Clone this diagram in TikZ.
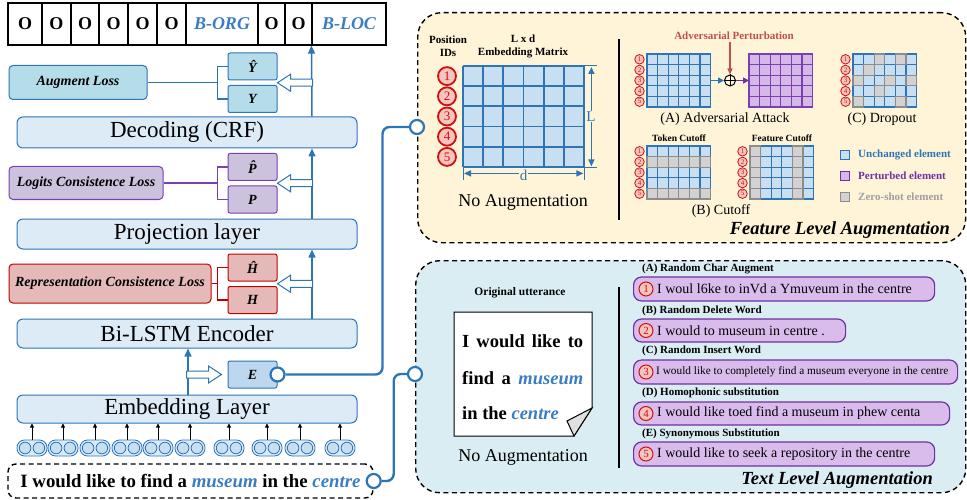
\documentclass[tikz,border=0pt]{standalone}
\usepackage{fontspec}
\setmainfont{Liberation Serif}
\usetikzlibrary{arrows.meta,calc}
\definecolor{lblue}{HTML}{DDEBF7}
\definecolor{mblue}{HTML}{2E75B6}
\definecolor{tblue}{HTML}{3A7DC4}
\definecolor{augfill}{HTML}{B4DDE9}
\definecolor{efill}{HTML}{BDD7EE}
\definecolor{purfill}{HTML}{CDC2DE}
\definecolor{purline}{HTML}{7A3FB0}
\definecolor{redfill}{HTML}{E5B9B7}
\definecolor{redline}{HTML}{C00000}
\definecolor{yellowbg}{HTML}{FFF3D8}
\definecolor{bluebg}{HTML}{DAEDF3}
\definecolor{cellblue}{HTML}{C8DEF1}
\definecolor{cellpur}{HTML}{D5B8E8}
\definecolor{cellgray}{HTML}{D2D2D2}
\definecolor{graystroke}{HTML}{8C8C8C}
\definecolor{boxpur}{HTML}{D9BCEB}
\definecolor{numred}{HTML}{D01010}
\definecolor{numfill}{HTML}{F6C6BE}
\definecolor{advred}{HTML}{C0504D}
\definecolor{legpur}{HTML}{7030A0}
\definecolor{leggray}{HTML}{A0A0A0}
\definecolor{foldgray}{HTML}{E0E0E0}
\newcommand\fsz[1]{\fontsize{#1}{#1}\selectfont}
\newcommand\smatrix[4]{%
  \node[inner sep=0pt, minimum width=63.6pt, minimum height=53pt, anchor=north west] (#1) at (#2,#3) {};
  \foreach \ci in {0,...,5}{\foreach \cj in {0,...,4}{\draw[#4] ({#2+\ci*10.6},{#3+\cj*10.6}) rectangle ++(10.6,10.6);}}}
\newcommand\gcells[3]{\foreach \ci/\cj in {#3}{\draw[gcell] ({#1+\ci*10.6},{#2+\cj*10.6}) rectangle ++(10.6,10.6);}}
\newcommand\snums[3]{\foreach \cj in {1,...,5}{\node[snum] (#1n\cj) at ({#2-7.5},{#3+(\cj-0.5)*10.6}) {\cj};}}
\begin{document}
\begin{tikzpicture}[x=1pt,y=-1pt,
  layerbox/.style={draw=mblue, fill=lblue, line width=1pt, rounded corners=6pt, minimum width=340pt, inner sep=0pt, font=\fsz{23}},
  tagcell/.style={draw=black, line width=1.1pt, minimum height=42pt, inner sep=0pt, font=\fsz{18}\bfseries},
  lossbox/.style={line width=1pt, rounded corners=4pt, inner sep=0pt, font=\fsz{14}\bfseries\itshape},
  smallbox/.style={line width=1pt, rounded corners=2pt, minimum width=49pt, minimum height=27pt, inner sep=0pt, font=\fsz{14}\bfseries\itshape},
  brk/.style={line width=1.5pt},
  bluearr/.style={draw=mblue, line width=1.5pt, -{Triangle[length=8pt,width=7pt]}},
  tokarr/.style={draw=black, line width=0.8pt, -{Triangle[length=4pt,width=4pt]}},
  tokpair/.style={draw=mblue, fill=lblue, line width=0.8pt, rounded corners=7.5pt, minimum width=30pt, minimum height=16pt, inner sep=0pt},
  tokcirc/.style={draw=mblue, fill=cellblue, line width=0.8pt},
  portc/.style={circle, draw=mblue, fill=white, line width=2.2pt, minimum size=14pt, inner sep=0pt},
  conn/.style={draw=mblue, line width=2.4pt, rounded corners=7pt},
  panelbox/.style={draw=black, line width=1.4pt, dash pattern=on 5pt off 3.5pt, rounded corners=24pt, inner sep=0pt},
  bcell/.style={draw=mblue, fill=cellblue, line width=1.3pt},
  pcell/.style={draw=purline, fill=cellpur, line width=1.3pt},
  gcell/.style={draw=graystroke, fill=cellgray, line width=1.3pt},
  snum/.style={circle, draw=numred, fill=numfill, line width=0.8pt, inner sep=0pt, minimum size=9.5pt, text=numred, font=\fsz{7}},
  bnum/.style={circle, draw=numred, fill=numfill, line width=1.8pt, inner sep=0pt, minimum size=18pt, text=numred, font=\fsz{13}},
  tnum/.style={circle, draw=numred, fill=numfill, line width=1pt, inner sep=0pt, minimum size=14pt, text=numred, font=\fsz{11}},
  tbox/.style={draw=legpur, fill=boxpur, line width=1.2pt, rounded corners=8pt, anchor=west, inner sep=0pt},
  lbl/.style={anchor=west, inner sep=0pt, font=\fsz{11}\bfseries},
  lgsq/.style={minimum size=9pt, inner sep=0pt, line width=1.3pt},
  divline/.style={draw=black, line width=1.2pt}
]
\useasboundingbox (0,0) rectangle (967,500);
% ---------- panels ----------
\node[panelbox, fill=yellowbg, minimum width=548pt, minimum height=230pt, anchor=north west] (fpan) at (417,12) {};
\node[panelbox, fill=bluebg, minimum width=550pt, minimum height=232pt, anchor=north west] (tpan) at (415,260) {};
% ---------- tag row ----------
\node[tagcell, minimum width=34pt] (t1) at (25,24) {O};
\node[tagcell, minimum width=29pt] (t2) at (56.5,24) {O};
\node[tagcell, minimum width=28pt] (t3) at (85,24) {O};
\node[tagcell, minimum width=29pt] (t4) at (113.5,24) {O};
\node[tagcell, minimum width=29pt] (t5) at (142.5,24) {O};
\node[tagcell, minimum width=29pt] (t6) at (171.5,24) {O};
\node[tagcell, minimum width=72pt, text=tblue, font=\fsz{18}\bfseries\itshape] (t7) at (222,24) {B-ORG};
\node[tagcell, minimum width=27pt] (t8) at (271.5,24) {O};
\node[tagcell, minimum width=27pt] (t9) at (298.5,24) {O};
\node[tagcell, minimum width=74pt, text=tblue, font=\fsz{18}\bfseries\itshape] (t10) at (349,24) {B-LOC};
% ---------- layers ----------
\node[layerbox, minimum height=31pt] (dec) at (187,132.5) {Decoding (CRF)};
\node[layerbox, minimum height=30pt] (proj) at (187,234) {Projection layer};
\node[layerbox, minimum height=29pt] (lstm) at (187,333.5) {Bi-LSTM Encoder};
\node[layerbox, minimum height=28pt] (emb) at (187,409) {Embedding Layer};
\coordinate (ax) at (312,0);
\coordinate (bx) at (188,0);
\draw[bluearr] (dec.north -| ax) -- (t10.south west);
\draw[bluearr] (proj.north -| ax) -- (dec.south -| ax);
\draw[bluearr] (lstm.north -| ax) -- (proj.south -| ax);
\draw[bluearr] (emb.north -| bx) -- (lstm.south -| bx);
% ---------- small boxes ----------
\node[smallbox, draw=mblue, fill=augfill] (yhat) at (252.5,66.5) {\^{Y}};
\node[smallbox, draw=mblue, fill=augfill] (yy) at (252.5,99) {Y};
\node[smallbox, draw=purline, fill=purfill] (phat) at (252.5,167) {\^{P}};
\node[smallbox, draw=purline, fill=purfill] (pp) at (252.5,199.5) {P};
\node[smallbox, draw=redline, fill=redfill] (hhat) at (252.5,267.5) {\^{H}};
\node[smallbox, draw=redline, fill=redfill] (hh) at (252.5,300) {H};
\node[smallbox, draw=mblue, fill=efill] (ee) at (252.5,374.5) {E};
% ---------- loss boxes ----------
\node[lossbox, draw=mblue, fill=augfill, minimum width=138pt, minimum height=34pt] (aug) at (78,82.5) {Augment Loss};
\node[lossbox, draw=purline, fill=purfill, minimum width=154pt, minimum height=33pt] (logit) at (86,183) {Logits Consistence Loss};
\node[lossbox, draw=redline, fill=redfill, minimum width=202pt, minimum height=39pt] (repr) at (110,283.5) {Representation Consistence Loss};
% brackets
\draw[brk, mblue] (yhat.west) -- ++(-10,0) coordinate (bk1) |- (yy.west);
\draw[brk, mblue] (aug.east) -- (aug.east -| bk1);
\draw[brk, purline] (phat.west) -- ++(-10,0) coordinate (bk2) |- (pp.west);
\draw[brk, purline] (logit.east) -- (logit.east -| bk2);
\draw[brk, redline] (hhat.west) -- ++(-10,0) coordinate (bk3) |- (hh.west);
\draw[brk, redline] (repr.east) -- (repr.east -| bk3);
% hollow arrows
\tikzset{hollowL/.pic={\draw[mblue, fill=white, line width=1pt] (0,0) -- (13,-8.5) -- (13,-3.5) -- (35,-3.5) -- (35,3.5) -- (13,3.5) -- (13,8.5) -- cycle;}}
\pic at ($(yhat.south east)!0.5!(yy.north east)$) {hollowL};
\pic at ($(phat.south east)!0.5!(pp.north east)$) {hollowL};
\pic at ($(hhat.south east)!0.5!(hh.north east)$) {hollowL};
\pic[xscale=-1] at ($(ee.west)+(-6,0)$) {hollowL};
% ---------- tokens ----------
\foreach \i/\xx in {1/32,2/63,3/95,4/127,5/158,6/190,7/229,8/267,9/300,10/340}{
  \node[tokpair] (tok\i) at (\xx,448) {};
  \draw[tokcirc] ($(tok\i.center)+(-6.9,0)$) circle (5.8pt);
  \draw[tokcirc] ($(tok\i.center)+(6.9,0)$) circle (5.8pt);
  \draw[tokarr] (tok\i.north) -- (tok\i.north |- emb.south);
}
\node[draw=black, line width=1.4pt, dash pattern=on 5pt off 3.5pt, rounded corners=8pt, minimum width=365pt, minimum height=34pt, inner sep=0pt, font=\fsz{18.8}\bfseries] (sent) at (190.5,481)
  {I would like to find a \textcolor{tblue}{\textit{museum}} in the \textcolor{tblue}{\textit{centre}}};
% ---------- connectors ----------
\coordinate (fport) at (417,127);
\coordinate (tport) at (415,374);
\node[portc] (eport) at (ee.east) {};
\node[portc] (sport) at (sent.east) {};
\node[portc] (fportc) at (fport) {};
\node[portc] (tportc) at (tport) {};
\draw[conn] (eport) -- ($(eport)+(105,0)$) |- (fportc);
\draw[conn] (sport) -- ($(sport)+(20,0)$) |- (tportc);
% ---------- feature panel ----------
\node[font=\fsz{11}\bfseries, align=center, inner sep=0pt] (posid) at (448,46) {Position\\[2pt]IDs};
\node[font=\fsz{11}\bfseries, align=center, inner sep=0pt] (lxd) at (523,46) {L x d\\[2pt]Embedding Matrix};
\node[inner sep=0pt, minimum width=121pt, minimum height=101pt, anchor=north west, fill=cellblue] (bigm) at (463,66) {};
\foreach \k in {0,...,6}{\draw[mblue, line width=1.8pt] ({463+\k*20.1667},66) -- ++(0,101);}
\foreach \k in {0,...,5}{\draw[mblue, line width=1.8pt] (463,{66+\k*20.2}) -- ++(121,0);}
\foreach \j in {1,...,5}{\node[bnum] (bn\j) at (447,{66+(\j-0.5)*20.2}) {\j};}
\draw[mblue, line width=1pt] (bigm.north east) -- ++(13,0);
\draw[mblue, line width=1pt] (bigm.south east) -- ++(13,0);
\draw[mblue, line width=1pt] (bigm.south west) -- ++(0,13);
\draw[mblue, line width=1pt] (bigm.south east) -- ++(0,13);
\draw[mblue, line width=1.5pt, {Triangle[length=7pt,width=6pt]}-{Triangle[length=7pt,width=6pt]}] ($(bigm.north east)+(7,1)$) -- ($(bigm.south east)+(7,-1)$);
\draw[mblue, line width=1.5pt, {Triangle[length=7pt,width=6pt]}-{Triangle[length=7pt,width=6pt]}] ($(bigm.south west)+(1,6)$) -- ($(bigm.south east)+(-1,6)$);
\node[fill=yellowbg, text=mblue, font=\fsz{15}, inner sep=1pt] (Llab) at (591,116.5) {L};
\node[fill=yellowbg, text=mblue, font=\fsz{15}, inner sep=1pt] (dlab) at (523.5,175) {d};
\node[font=\fsz{18}] (noaug1) at (523,202) {No Augmentation};
\draw[divline] (619,39) -- (619,220);
% adversarial
\smatrix{advm}{647}{54}{bcell}
\snums{adv}{647}{54}
\smatrix{purm}{749}{54}{pcell}
\node[circle, draw=black, line width=1pt, minimum size=11pt, inner sep=0pt] (op) at (730,80.5) {};
\draw[line width=1pt] (op.north) -- (op.south) (op.west) -- (op.east);
\draw[draw=mblue, line width=1.5pt, -{Triangle[length=6pt,width=6pt]}] (advm.east |- op) -- (op.west);
\draw[draw=legpur, line width=1.5pt, -{Triangle[length=6pt,width=6pt]}] (op.east) -- (purm.west |- op);
\node[font=\fsz{11}\bfseries, text=advred, inner sep=0pt] (advt) at (734,36) {Adversarial Perturbation};
\draw[draw=advred, line width=1.2pt, -{Triangle[length=6pt,width=5pt]}] ($(advt.south -| op)+(0,2)$) -- (op.north);
\node[font=\fsz{14}] (capA) at (725,119) {(A) Adversarial Attack};
% dropout
\smatrix{dropm}{853}{54}{bcell}
\gcells{853}{54}{2/0,4/0,1/1,0/2,3/2,5/2,2/3,0/4,4/4}
\snums{drp}{853}{54}
\node[font=\fsz{14}] (capC) at (882,119) {(C) Dropout};
% cutoff
\node[font=\fsz{9.5}\bfseries, inner sep=0pt] (tokt) at (679,138) {Token Cutoff};
\smatrix{tokm}{647}{146}{bcell}
\gcells{647}{146}{0/1,1/1,2/1,3/1,4/1,5/1,0/4,1/4,2/4,3/4,4/4,5/4}
\snums{tkc}{647}{146}
\node[font=\fsz{9.5}\bfseries, inner sep=0pt] (feat) at (782,138) {Feature Cutoff};
\smatrix{featm}{750}{146}{bcell}
\gcells{750}{146}{0/0,0/1,0/2,0/3,0/4,4/0,4/1,4/2,4/3,4/4}
\snums{ftc}{750}{146}
\node[font=\fsz{14}] (capB) at (721,211) {(B) Cutoff};
% legend
\node[lgsq, fill=cellblue, draw=mblue] (lg1) at (845,155) {};
\node[lgsq, fill=cellpur, draw=legpur] (lg2) at (845,176) {};
\node[lgsq, fill=cellgray, draw=graystroke] (lg3) at (845,197) {};
\node[lbl, text=mblue] (lt1) at (858,155) {Unchanged element};
\node[lbl, text=legpur] (lt2) at (858,176) {Perturbed element};
\node[lbl, text=leggray] (lt3) at (858,197) {Zero-shot element};
\node[anchor=east, font=\fsz{18.5}\bfseries\itshape, inner sep=0pt] (ftitle) at (950,230) {Feature Level Augmentation};
% ---------- text panel ----------
\node[font=\fsz{11.5}\bfseries, inner sep=0pt] (orig) at (520,293) {Original utterance};
\draw[fill=white, line width=1pt] (454,312) -- (592,312) -- (592,408) -- (574,436) -- (454,436) -- cycle;
\draw[fill=foldgray, line width=1pt] (592,408) -- (567,421) -- (574,436) -- cycle;
\node[anchor=west, font=\fsz{18.5}\bfseries, inner sep=0pt] (n1) at (462,341) {\makebox[121pt][s]{I would like to}};
\node[anchor=west, font=\fsz{18.5}\bfseries, inner sep=0pt] (n2) at (462,378) {\makebox[121pt][s]{find a \textcolor{tblue}{\textit{museum}}}};
\node[anchor=west, font=\fsz{18.5}\bfseries, inner sep=0pt] (n3) at (462,413) {in the \textcolor{tblue}{\textit{centre}}};
\node[font=\fsz{18}] (noaug2) at (523,457) {No Augmentation};
\draw[divline] (619,287) -- (619,468);
\node[lbl] (la) at (642,269) {(A) Random Char Augment};
\node[lbl] (lb) at (642,311) {(B) Random Delete Word};
\node[lbl] (lc) at (642,351) {(C) Random Insert Word};
\node[lbl] (ld) at (642,393) {(D) Homophonic substitution};
\node[lbl] (le) at (642,434) {(E) Synonymous Substitution};
\node[tbox, minimum width=301pt, minimum height=24pt] (b1) at (633,289) {};
\node[tbox, minimum width=212pt, minimum height=23pt] (b2) at (633,330.5) {};
\node[tbox, minimum width=324pt, minimum height=24pt] (b3) at (633,372) {};
\node[tbox, minimum width=316pt, minimum height=23pt] (b4) at (633,413.5) {};
\node[tbox, minimum width=301pt, minimum height=24pt] (b5) at (633,454) {};
\foreach \k in {1,...,5}{\node[tnum] (c\k) at ([xshift=13pt]b\k.west) {\k};}
\node[anchor=west, font=\fsz{14}, inner sep=0pt] (s1) at ([xshift=24pt]b1.west) {I woul l6ke to inVd a Ymuveum in the centre};
\node[anchor=west, font=\fsz{14}, inner sep=0pt] (s2) at ([xshift=24pt]b2.west) {I would to museum in centre .};
\node[anchor=west, font=\fsz{11.3}, inner sep=0pt] (s3) at ([xshift=23pt]b3.west) {I would like to completely find a museum everyone in the centre};
\node[anchor=west, font=\fsz{14}, inner sep=0pt] (s4) at ([xshift=24pt]b4.west) {I would like toed find a museum in phew centa};
\node[anchor=west, font=\fsz{14}, inner sep=0pt] (s5) at ([xshift=24pt]b5.west) {I would like to seek a repository in the centre};
\node[anchor=east, font=\fsz{18.5}\bfseries\itshape, inner sep=0pt] (ttitle) at (933,480) {Text Level Augmentation};
\end{tikzpicture}
\end{document}
